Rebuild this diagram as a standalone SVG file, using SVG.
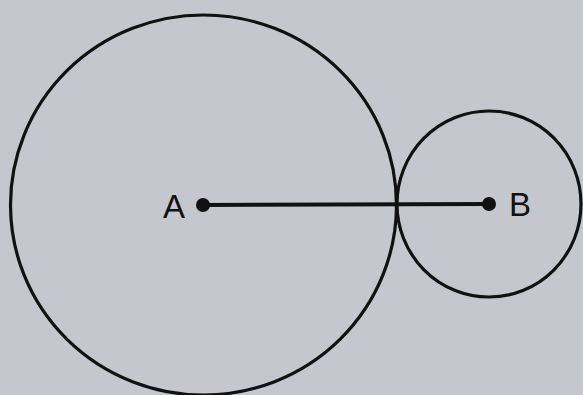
<svg xmlns="http://www.w3.org/2000/svg" width="583" height="395" viewBox="0 0 583 395">
  <style>
    .circ { fill: none; stroke: #111; stroke-width: 3.2; }
    .lbl { font-family: "Liberation Sans", Arial, sans-serif; font-size: 33px; fill: #111; }
    .dot { fill: #111; }
  </style>
  <rect x="0" y="0" width="583" height="395" fill="#c4c8ce"/>
  <g id="circleA">
    <ellipse class="circ" cx="203.5" cy="205" rx="193" ry="190"/>
  </g>
  <g id="circleB">
    <ellipse class="circ" cx="489" cy="204" rx="92" ry="93"/>
  </g>
  <g id="connectors">
    <line x1="203" y1="205" x2="489" y2="204" stroke="#111" stroke-width="4"/>
  </g>
  <g id="nodeA">
    <circle class="dot" cx="203" cy="205" r="7"/>
    <text class="lbl" x="163" y="218">A</text>
  </g>
  <g id="nodeB">
    <circle class="dot" cx="489" cy="204" r="7"/>
    <text class="lbl" x="509" y="216">B</text>
  </g>
</svg>
